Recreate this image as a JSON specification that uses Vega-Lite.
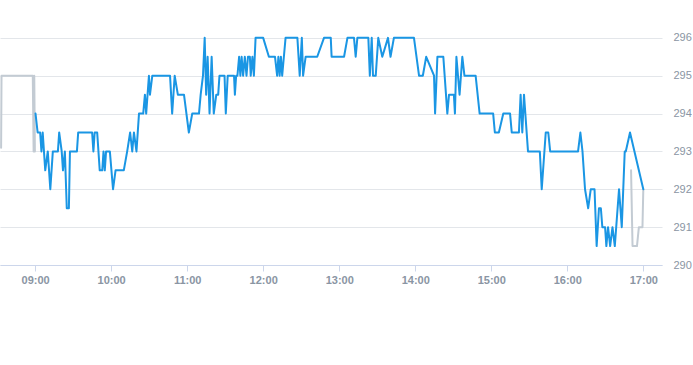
{
  "$schema": "https://vega.github.io/schema/vega-lite/v6.json",
  "width": 662,
  "height": 265,
  "padding": 0,
  "background": "white",
  "config": {"view": {"stroke": null}},
  "datasets": {
    "ext": [
      {"t": "2024-01-02T08:33:10", "v": 293.1, "g": "pre"},
      {"t": "2024-01-02T08:33:30", "v": 295, "g": "pre"},
      {"t": "2024-01-02T08:58:10", "v": 295, "g": "pre"},
      {"t": "2024-01-02T08:58:50", "v": 293, "g": "pre"},
      {"t": "2024-01-02T08:59:20", "v": 295, "g": "pre"},
      {"t": "2024-01-02T08:59:50", "v": 293, "g": "pre"},
      {"t": "2024-01-02T16:50:20", "v": 292.5, "g": "post"},
      {"t": "2024-01-02T16:51:30", "v": 290.5, "g": "post"},
      {"t": "2024-01-02T16:55:00", "v": 290.5, "g": "post"},
      {"t": "2024-01-02T16:56:30", "v": 291, "g": "post"},
      {"t": "2024-01-02T16:59:20", "v": 291, "g": "post"},
      {"t": "2024-01-02T17:00:00", "v": 292, "g": "post"}
    ],
    "main": [
      {"t": "2024-01-02T09:00:20", "v": 294},
      {"t": "2024-01-02T09:02:00", "v": 293.5},
      {"t": "2024-01-02T09:04:00", "v": 293.5},
      {"t": "2024-01-02T09:05:00", "v": 293},
      {"t": "2024-01-02T09:06:00", "v": 293.5},
      {"t": "2024-01-02T09:08:00", "v": 292.5},
      {"t": "2024-01-02T09:10:00", "v": 293},
      {"t": "2024-01-02T09:12:00", "v": 292},
      {"t": "2024-01-02T09:14:00", "v": 293},
      {"t": "2024-01-02T09:18:00", "v": 293},
      {"t": "2024-01-02T09:19:00", "v": 293.5},
      {"t": "2024-01-02T09:21:00", "v": 293},
      {"t": "2024-01-02T09:22:00", "v": 292.5},
      {"t": "2024-01-02T09:23:30", "v": 293},
      {"t": "2024-01-02T09:25:00", "v": 291.5},
      {"t": "2024-01-02T09:26:40", "v": 291.5},
      {"t": "2024-01-02T09:27:30", "v": 293},
      {"t": "2024-01-02T09:33:00", "v": 293},
      {"t": "2024-01-02T09:34:00", "v": 293.5},
      {"t": "2024-01-02T09:45:00", "v": 293.5},
      {"t": "2024-01-02T09:46:00", "v": 293},
      {"t": "2024-01-02T09:47:00", "v": 293.5},
      {"t": "2024-01-02T09:49:00", "v": 293.5},
      {"t": "2024-01-02T09:51:00", "v": 292.5},
      {"t": "2024-01-02T09:53:00", "v": 292.5},
      {"t": "2024-01-02T09:54:00", "v": 293},
      {"t": "2024-01-02T09:55:00", "v": 292.5},
      {"t": "2024-01-02T09:56:00", "v": 293},
      {"t": "2024-01-02T09:59:00", "v": 293},
      {"t": "2024-01-02T10:01:30", "v": 292},
      {"t": "2024-01-02T10:03:30", "v": 292.5},
      {"t": "2024-01-02T10:10:00", "v": 292.5},
      {"t": "2024-01-02T10:12:40", "v": 293},
      {"t": "2024-01-02T10:15:00", "v": 293.5},
      {"t": "2024-01-02T10:16:40", "v": 293},
      {"t": "2024-01-02T10:18:00", "v": 293.5},
      {"t": "2024-01-02T10:20:00", "v": 293},
      {"t": "2024-01-02T10:22:00", "v": 294},
      {"t": "2024-01-02T10:25:20", "v": 294},
      {"t": "2024-01-02T10:26:40", "v": 294.5},
      {"t": "2024-01-02T10:27:40", "v": 294},
      {"t": "2024-01-02T10:29:50", "v": 295},
      {"t": "2024-01-02T10:30:40", "v": 294.5},
      {"t": "2024-01-02T10:32:30", "v": 295},
      {"t": "2024-01-02T10:46:30", "v": 295},
      {"t": "2024-01-02T10:48:10", "v": 294},
      {"t": "2024-01-02T10:50:10", "v": 295},
      {"t": "2024-01-02T10:52:40", "v": 294.5},
      {"t": "2024-01-02T10:57:30", "v": 294.5},
      {"t": "2024-01-02T11:01:20", "v": 293.5},
      {"t": "2024-01-02T11:04:00", "v": 294},
      {"t": "2024-01-02T11:09:20", "v": 294},
      {"t": "2024-01-02T11:10:40", "v": 294.5},
      {"t": "2024-01-02T11:12:30", "v": 295},
      {"t": "2024-01-02T11:13:50", "v": 296},
      {"t": "2024-01-02T11:15:00", "v": 294.5},
      {"t": "2024-01-02T11:16:10", "v": 295.5},
      {"t": "2024-01-02T11:17:40", "v": 294},
      {"t": "2024-01-02T11:19:20", "v": 295.5},
      {"t": "2024-01-02T11:21:00", "v": 294},
      {"t": "2024-01-02T11:23:00", "v": 294.5},
      {"t": "2024-01-02T11:24:30", "v": 294.5},
      {"t": "2024-01-02T11:25:30", "v": 295},
      {"t": "2024-01-02T11:29:30", "v": 295},
      {"t": "2024-01-02T11:30:30", "v": 294},
      {"t": "2024-01-02T11:32:00", "v": 295},
      {"t": "2024-01-02T11:37:00", "v": 295},
      {"t": "2024-01-02T11:37:40", "v": 294.5},
      {"t": "2024-01-02T11:38:40", "v": 295},
      {"t": "2024-01-02T11:39:40", "v": 295},
      {"t": "2024-01-02T11:41:00", "v": 295.5},
      {"t": "2024-01-02T11:42:00", "v": 295},
      {"t": "2024-01-02T11:43:00", "v": 295.5},
      {"t": "2024-01-02T11:44:10", "v": 295},
      {"t": "2024-01-02T11:45:30", "v": 295.5},
      {"t": "2024-01-02T11:46:50", "v": 295},
      {"t": "2024-01-02T11:48:00", "v": 295.5},
      {"t": "2024-01-02T11:49:30", "v": 295.5},
      {"t": "2024-01-02T11:50:10", "v": 295},
      {"t": "2024-01-02T11:51:30", "v": 295.5},
      {"t": "2024-01-02T11:52:40", "v": 295},
      {"t": "2024-01-02T11:54:00", "v": 296},
      {"t": "2024-01-02T12:00:00", "v": 296},
      {"t": "2024-01-02T12:04:30", "v": 295.5},
      {"t": "2024-01-02T12:09:20", "v": 295.5},
      {"t": "2024-01-02T12:11:00", "v": 295},
      {"t": "2024-01-02T12:12:00", "v": 295.5},
      {"t": "2024-01-02T12:13:00", "v": 295},
      {"t": "2024-01-02T12:14:00", "v": 295.5},
      {"t": "2024-01-02T12:15:00", "v": 295},
      {"t": "2024-01-02T12:17:40", "v": 296},
      {"t": "2024-01-02T12:27:00", "v": 296},
      {"t": "2024-01-02T12:28:50", "v": 295},
      {"t": "2024-01-02T12:30:30", "v": 296},
      {"t": "2024-01-02T12:31:30", "v": 295},
      {"t": "2024-01-02T12:33:30", "v": 295.5},
      {"t": "2024-01-02T12:42:40", "v": 295.5},
      {"t": "2024-01-02T12:48:00", "v": 296},
      {"t": "2024-01-02T12:53:20", "v": 296},
      {"t": "2024-01-02T12:54:00", "v": 295.5},
      {"t": "2024-01-02T13:03:50", "v": 295.5},
      {"t": "2024-01-02T13:06:30", "v": 296},
      {"t": "2024-01-02T13:11:40", "v": 296},
      {"t": "2024-01-02T13:13:00", "v": 295.5},
      {"t": "2024-01-02T13:14:20", "v": 296},
      {"t": "2024-01-02T13:23:00", "v": 296},
      {"t": "2024-01-02T13:24:10", "v": 295},
      {"t": "2024-01-02T13:25:40", "v": 296},
      {"t": "2024-01-02T13:26:40", "v": 295},
      {"t": "2024-01-02T13:28:50", "v": 295},
      {"t": "2024-01-02T13:30:50", "v": 296},
      {"t": "2024-01-02T13:34:00", "v": 295.5},
      {"t": "2024-01-02T13:38:30", "v": 296},
      {"t": "2024-01-02T13:40:30", "v": 295.5},
      {"t": "2024-01-02T13:43:10", "v": 296},
      {"t": "2024-01-02T13:59:00", "v": 296},
      {"t": "2024-01-02T14:03:00", "v": 295},
      {"t": "2024-01-02T14:06:00", "v": 295},
      {"t": "2024-01-02T14:08:40", "v": 295.5},
      {"t": "2024-01-02T14:14:50", "v": 295},
      {"t": "2024-01-02T14:15:40", "v": 294},
      {"t": "2024-01-02T14:17:30", "v": 295.5},
      {"t": "2024-01-02T14:22:10", "v": 295.5},
      {"t": "2024-01-02T14:25:20", "v": 294},
      {"t": "2024-01-02T14:26:40", "v": 294.5},
      {"t": "2024-01-02T14:30:30", "v": 294.5},
      {"t": "2024-01-02T14:31:20", "v": 294},
      {"t": "2024-01-02T14:32:30", "v": 295.5},
      {"t": "2024-01-02T14:35:00", "v": 294.5},
      {"t": "2024-01-02T14:37:10", "v": 295.5},
      {"t": "2024-01-02T14:38:50", "v": 295},
      {"t": "2024-01-02T14:47:40", "v": 295},
      {"t": "2024-01-02T14:50:50", "v": 294},
      {"t": "2024-01-02T15:01:30", "v": 294},
      {"t": "2024-01-02T15:02:50", "v": 293.5},
      {"t": "2024-01-02T15:06:00", "v": 293.5},
      {"t": "2024-01-02T15:09:30", "v": 294},
      {"t": "2024-01-02T15:14:50", "v": 294},
      {"t": "2024-01-02T15:16:10", "v": 293.5},
      {"t": "2024-01-02T15:21:50", "v": 293.5},
      {"t": "2024-01-02T15:23:10", "v": 294.5},
      {"t": "2024-01-02T15:24:30", "v": 293.5},
      {"t": "2024-01-02T15:25:50", "v": 294.5},
      {"t": "2024-01-02T15:29:00", "v": 293},
      {"t": "2024-01-02T15:38:20", "v": 293},
      {"t": "2024-01-02T15:39:50", "v": 292},
      {"t": "2024-01-02T15:43:00", "v": 293.5},
      {"t": "2024-01-02T15:45:00", "v": 293.5},
      {"t": "2024-01-02T15:46:30", "v": 293},
      {"t": "2024-01-02T16:08:30", "v": 293},
      {"t": "2024-01-02T16:10:20", "v": 293.5},
      {"t": "2024-01-02T16:12:00", "v": 293},
      {"t": "2024-01-02T16:14:00", "v": 292},
      {"t": "2024-01-02T16:16:30", "v": 291.5},
      {"t": "2024-01-02T16:18:30", "v": 292},
      {"t": "2024-01-02T16:21:30", "v": 292},
      {"t": "2024-01-02T16:23:10", "v": 290.5},
      {"t": "2024-01-02T16:25:00", "v": 291.5},
      {"t": "2024-01-02T16:26:30", "v": 291.5},
      {"t": "2024-01-02T16:27:40", "v": 291},
      {"t": "2024-01-02T16:29:50", "v": 291},
      {"t": "2024-01-02T16:30:50", "v": 290.5},
      {"t": "2024-01-02T16:32:10", "v": 291},
      {"t": "2024-01-02T16:33:50", "v": 290.5},
      {"t": "2024-01-02T16:35:40", "v": 291},
      {"t": "2024-01-02T16:37:30", "v": 290.5},
      {"t": "2024-01-02T16:40:50", "v": 292},
      {"t": "2024-01-02T16:43:00", "v": 291},
      {"t": "2024-01-02T16:45:20", "v": 293},
      {"t": "2024-01-02T16:46:10", "v": 293},
      {"t": "2024-01-02T16:49:30", "v": 293.5},
      {"t": "2024-01-02T17:00:00", "v": 292}
    ]
  },
  "encoding": {
    "x": {
      "field": "t",
      "type": "temporal",
      "scale": {
        "domainMin": {"expr": "datetime(2024, 0, 2, 8, 32, 18)"},
        "domainMax": {"expr": "datetime(2024, 0, 2, 17, 14, 45)"}
      },
      "axis": {
        "title": null,
        "format": "%H:%M",
        "tickCount": 9,
        "grid": false,
        "domainColor": "#ccd6eb",
        "tickColor": "#ccd6eb",
        "tickSize": 6,
        "labelPadding": 3,
        "labelFont": "Liberation Sans",
        "labelFontSize": 11,
        "labelFontWeight": "bold",
        "labelColor": "#8a95a3",
        "labelFlush": false
      }
    },
    "y": {
      "field": "v",
      "type": "quantitative",
      "scale": {"domain": [290, 297], "zero": false, "nice": false},
      "axis": {
        "orient": "right",
        "title": null,
        "values": [290, 291, 292, 293, 294, 295, 296],
        "domain": false,
        "ticks": false,
        "gridColor": "#e3e6ea",
        "labelPadding": 11,
        "labelFont": "Liberation Sans",
        "labelFontSize": 11,
        "labelColor": "#8a95a3"
      }
    }
  },
  "layer": [
    {
      "data": {"name": "ext"},
      "mark": {"type": "line", "color": "#c3cbd3", "strokeWidth": 2, "strokeJoin": "round", "strokeCap": "round"},
      "encoding": {"detail": {"field": "g", "type": "nominal"}}
    },
    {
      "data": {"name": "main"},
      "mark": {"type": "line", "color": "#1a96e4", "strokeWidth": 2, "strokeJoin": "round", "strokeCap": "round"}
    }
  ]
}
